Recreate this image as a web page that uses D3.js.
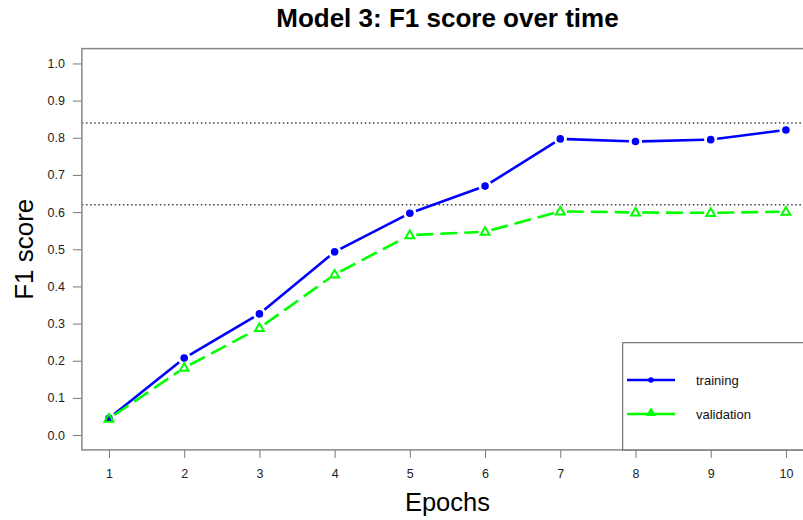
<!DOCTYPE html>
<html><head><meta charset="utf-8">
<script src="https://cdn.jsdelivr.net/npm/d3@7/dist/d3.min.js"></script>
<style>body{margin:0;background:#fff}svg{display:block;font-family:"Liberation Sans",Arial,sans-serif}</style>
</head><body><svg id="c" width="803" height="520"></svg>
<script>
const epochs = [1,2,3,4,5,6,7,8,9,10];
const training = [0.045,0.207,0.326,0.493,0.597,0.670,0.797,0.790,0.795,0.821];
const validation = [0.044,0.181,0.288,0.432,0.538,0.547,0.602,0.599,0.598,0.601];
const yTicks = [0,0.1,0.2,0.3,0.4,0.5,0.6,0.7,0.8,0.9,1.0];
const refLines = [0.84,0.62];
const seriesNames = ["training","validation"];

const svg = d3.select("#c");
const x = d3.scaleLinear().domain([0.64,10.36]).range([81.9,813]);
const y = d3.scaleLinear().domain([-0.04,1.04]).range([449.9,48.6]);
const L = x.range()[0], R = x.range()[1], B = y.range()[0], T = y.range()[1];

// reference dotted lines
svg.selectAll("line.ref").data(refLines).join("line")
  .attr("x1",L).attr("x2",R).attr("y1",d=>y(d)).attr("y2",d=>y(d))
  .attr("stroke","#444").attr("stroke-width",1.5).attr("stroke-dasharray","1.5,2.6");

// axes
const yAxis = d3.axisLeft(y).tickValues(yTicks).tickFormat(d3.format(".1f")).tickSize(9).tickPadding(8);
const gy = svg.append("g").attr("transform",`translate(${L},0)`).call(yAxis);
gy.select(".domain").remove();
gy.selectAll(".tick line").attr("stroke","#777");
gy.selectAll(".tick text").attr("font-size",12.5).attr("fill","#222").attr("font-family","Liberation Sans, Arial");

const xAxis = d3.axisBottom(x).tickValues(epochs).tickFormat(d3.format("d")).tickSize(8).tickPadding(11);
const gx = svg.append("g").attr("transform",`translate(0,${B})`).call(xAxis);
gx.select(".domain").remove();
gx.selectAll(".tick line").attr("stroke","#777");
gx.selectAll(".tick text").attr("font-size",12.5).attr("fill","#222").attr("font-family","Liberation Sans, Arial");

// plot box
svg.append("rect").attr("x",L).attr("y",T).attr("width",R-L).attr("height",B-T)
  .attr("fill","none").attr("stroke","#888").attr("stroke-width",1.5);

// segments with gaps around points (type = "b")
function segs(vals){
  const out=[]; const gap=6.5;
  for(let i=0;i<vals.length-1;i++){
    const x1=x(epochs[i]),y1=y(vals[i]),x2=x(epochs[i+1]),y2=y(vals[i+1]);
    const dx=x2-x1,dy=y2-y1,len=Math.hypot(dx,dy),ux=dx/len,uy=dy/len;
    out.push([x1+ux*gap,y1+uy*gap,x2-ux*gap,y2-uy*gap]);
  }
  return out;
}
svg.selectAll("line.tr").data(segs(training)).join("line")
  .attr("x1",d=>d[0]).attr("y1",d=>d[1]).attr("x2",d=>d[2]).attr("y2",d=>d[3])
  .attr("stroke","#0000ff").attr("stroke-width",2.6);
svg.selectAll("line.va").data(segs(validation)).join("line")
  .attr("x1",d=>d[0]).attr("y1",d=>d[1]).attr("x2",d=>d[2]).attr("y2",d=>d[3])
  .attr("stroke","#00ff00").attr("stroke-width",2.6).attr("stroke-dasharray","17,7");

svg.selectAll("circle.tp").data(training).join("circle")
  .attr("cx",(d,i)=>x(epochs[i])).attr("cy",d=>y(d)).attr("r",3.8).attr("fill","#0000ff");
const tri = d3.symbol().type(d3.symbolTriangle).size(34);
svg.selectAll("path.vp").data(validation).join("path")
  .attr("d",tri).attr("transform",(d,i)=>`translate(${x(epochs[i])},${y(d)+0.5})`)
  .attr("fill","none").attr("stroke","#00ff00").attr("stroke-width",2);

// legend
const lg = svg.append("g");
lg.append("rect").attr("x",622.7).attr("y",342.7).attr("width",R-622.7).attr("height",B-342.7)
  .attr("fill","#fff").attr("stroke","#555").attr("stroke-width",1);
const lgY=[380,414], colors=["#0000ff","#00ff00"];
seriesNames.forEach((n,i)=>{
  lg.append("line").attr("x1",627).attr("x2",675).attr("y1",lgY[i]).attr("y2",lgY[i])
    .attr("stroke",colors[i]).attr("stroke-width",2.6);
  if(i===0) lg.append("circle").attr("cx",651).attr("cy",lgY[i]).attr("r",2.8).attr("fill",colors[i]);
  else lg.append("path").attr("d",d3.symbol().type(d3.symbolTriangle).size(44)).attr("transform",`translate(651,${lgY[i]-1})`).attr("fill",colors[i]);
  lg.append("text").attr("x",696).attr("y",lgY[i]+4.5).attr("font-size",13).attr("fill","#111").text(n);
});

// titles
svg.append("text").attr("x",(L+R)/2).attr("y",27).attr("text-anchor","middle")
  .attr("font-size",26).attr("font-weight","bold").attr("fill","#000").text("Model 3: F1 score over time");
svg.append("text").attr("x",(L+R)/2).attr("y",511).attr("text-anchor","middle")
  .attr("font-size",25.5).attr("fill","#000").text("Epochs");
svg.append("text").attr("transform",`translate(33,${(T+B)/2}) rotate(-90)`).attr("text-anchor","middle")
  .attr("font-size",26).attr("fill","#000").text("F1 score");
</script></body></html>
